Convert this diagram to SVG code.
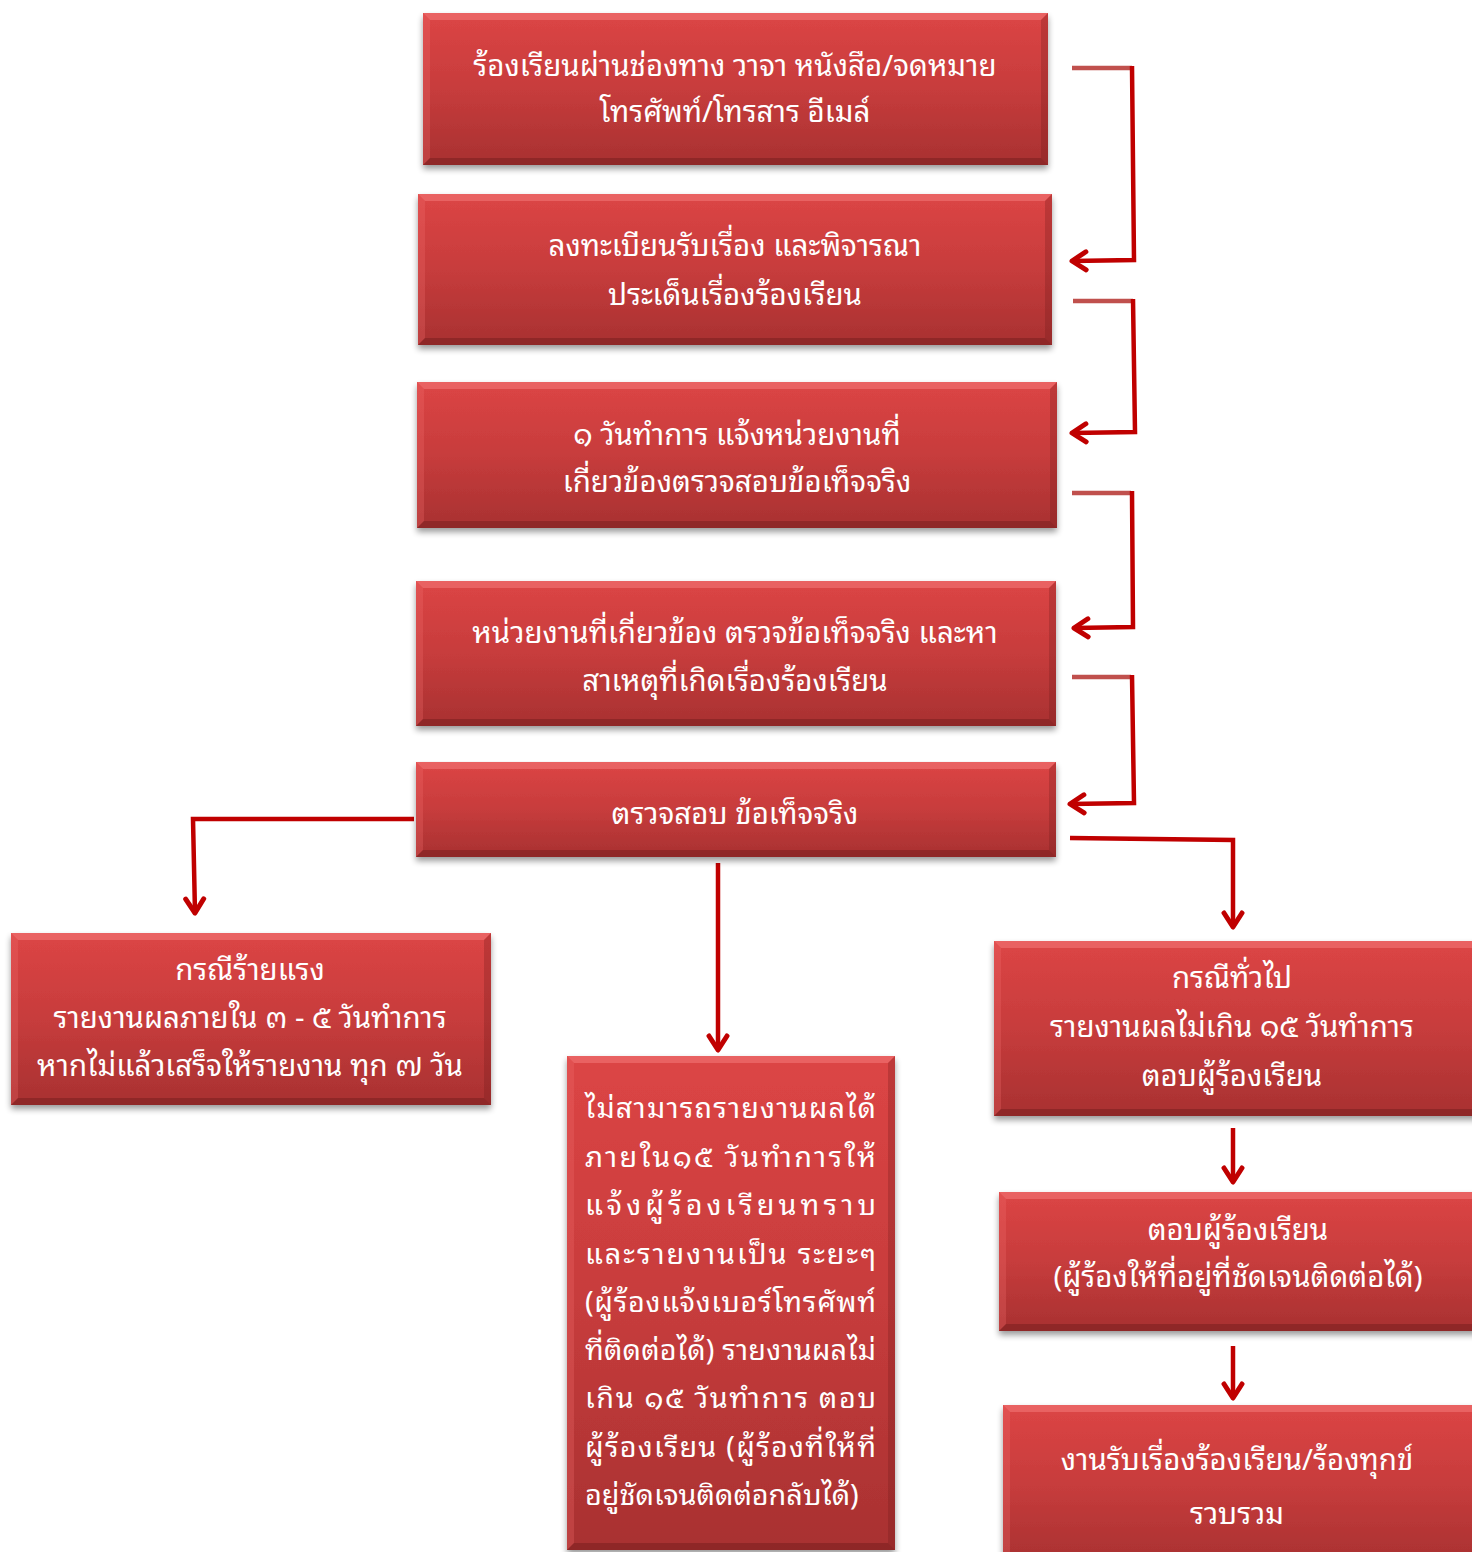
<svg xmlns="http://www.w3.org/2000/svg" width="1472" height="1552" viewBox="0 0 1472 1552">
<defs>
<linearGradient id="g" x1="0" y1="0" x2="0" y2="1">
<stop offset="0" stop-color="#dc4545"/>
<stop offset="0.5" stop-color="#c73c3c"/>
<stop offset="1" stop-color="#a83131"/>
</linearGradient>
<filter id="sh" x="-5%" y="-5%" width="110%" height="120%">
<feGaussianBlur in="SourceAlpha" stdDeviation="3"/>
<feOffset dx="0" dy="4" result="b"/>
<feComponentTransfer><feFuncA type="linear" slope="0.4"/></feComponentTransfer>
<feMerge><feMergeNode/><feMergeNode in="SourceGraphic"/></feMerge>
</filter>
<marker id="ah" viewBox="0 0 20 24" refX="17" refY="12" markerWidth="20" markerHeight="24" markerUnits="userSpaceOnUse" orient="auto">
<path d="M3,3 L17,12 L3,21" fill="none" stroke="#c00000" stroke-width="5" stroke-linecap="round" stroke-linejoin="round"/>
</marker>
<style>
.box{fill:url(#g);filter:url(#sh)}
.bt{fill:#f47a7a;opacity:.55}
.bl{fill:#ee6a6a;opacity:.3}
.br{fill:#6e1a1a;opacity:.28}
.bb{fill:#5e1515;opacity:.35}
.t{font-family:"Noto Sans Thai Looped","Noto Sans Thai","Noto Sans","DejaVu Sans",sans-serif;font-size:29.5px;fill:#ffffff;text-anchor:middle}
.tl{text-anchor:start;font-size:28.8px}
.c{fill:none;stroke:#c00000;stroke-width:4.5}
.cl{fill:none;stroke:#c0504d;stroke-width:4.5}
</style>
</defs>

<g id="connectors">
<line class="cl" x1="1072" y1="68" x2="1132" y2="68"/>
<polyline class="c" points="1132,66 1134,260 1072,261" marker-end="url(#ah)"/>
<line class="cl" x1="1073" y1="301" x2="1133" y2="301"/>
<polyline class="c" points="1133,299 1135,432 1072,433" marker-end="url(#ah)"/>
<line class="cl" x1="1072" y1="493" x2="1131" y2="493"/>
<polyline class="c" points="1132,491 1133,627 1074,628" marker-end="url(#ah)"/>
<line class="cl" x1="1072" y1="677" x2="1131" y2="677"/>
<polyline class="c" points="1132,675 1134,803 1070,804" marker-end="url(#ah)"/>
<polyline class="c" points="414,819 193,819 195,913" marker-end="url(#ah)"/>
<polyline class="c" points="718,863 718,1050" marker-end="url(#ah)"/>
<polyline class="c" points="1070,838 1233,840 1233,927" marker-end="url(#ah)"/>
<polyline class="c" points="1233,1128 1233,1182" marker-end="url(#ah)"/>
<polyline class="c" points="1233,1346 1233,1398" marker-end="url(#ah)"/>
</g>

<g id="n1">
<rect class="box" x="423" y="13" width="625" height="152"/>
<polygon class="bt" points="423,13 1048,13 1041,20 430,20"/>
<polygon class="bl" points="423,13 430,20 430,158 423,165"/>
<polygon class="br" points="1048,13 1048,165 1041,158 1041,20"/>
<polygon class="bb" points="423,165 1048,165 1041,158 430,158"/>
<text class="t" x="735" y="76">ร้องเรียนผ่านช่องทาง วาจา หนังสือ/จดหมาย</text>
<text class="t" x="735" y="122">โทรศัพท์/โทรสาร อีเมล์</text>
</g>

<g id="n2">
<rect class="box" x="418" y="194" width="634" height="151"/>
<polygon class="bt" points="418,194 1052,194 1045,201 425,201"/>
<polygon class="bl" points="418,194 425,201 425,338 418,345"/>
<polygon class="br" points="1052,194 1052,345 1045,338 1045,201"/>
<polygon class="bb" points="418,345 1052,345 1045,338 425,338"/>
<text class="t" x="735" y="256">ลงทะเบียนรับเรื่อง และพิจารณา</text>
<text class="t" x="735" y="305">ประเด็นเรื่องร้องเรียน</text>
</g>

<g id="n3">
<rect class="box" x="417" y="382" width="640" height="146"/>
<polygon class="bt" points="417,382 1057,382 1050,389 424,389"/>
<polygon class="bl" points="417,382 424,389 424,521 417,528"/>
<polygon class="br" points="1057,382 1057,528 1050,521 1050,389"/>
<polygon class="bb" points="417,528 1057,528 1050,521 424,521"/>
<text class="t" x="737" y="445">๑ วันทำการ แจ้งหน่วยงานที่</text>
<text class="t" x="737" y="492">เกี่ยวข้องตรวจสอบข้อเท็จจริง</text>
</g>

<g id="n4">
<rect class="box" x="416" y="581" width="640" height="145"/>
<polygon class="bt" points="416,581 1056,581 1049,588 423,588"/>
<polygon class="bl" points="416,581 423,588 423,719 416,726"/>
<polygon class="br" points="1056,581 1056,726 1049,719 1049,588"/>
<polygon class="bb" points="416,726 1056,726 1049,719 423,719"/>
<text class="t" x="735" y="643">หน่วยงานที่เกี่ยวข้อง ตรวจข้อเท็จจริง และหา</text>
<text class="t" x="735" y="691">สาเหตุที่เกิดเรื่องร้องเรียน</text>
</g>

<g id="n5">
<rect class="box" x="416" y="762" width="640" height="95"/>
<polygon class="bt" points="416,762 1056,762 1049,769 423,769"/>
<polygon class="bl" points="416,762 423,769 423,850 416,857"/>
<polygon class="br" points="1056,762 1056,857 1049,850 1049,769"/>
<polygon class="bb" points="416,857 1056,857 1049,850 423,850"/>
<text class="t" x="735" y="824">ตรวจสอบ ข้อเท็จจริง</text>
</g>

<g id="n6">
<rect class="box" x="11" y="933" width="480" height="172"/>
<polygon class="bt" points="11,933 491,933 484,940 18,940"/>
<polygon class="bl" points="11,933 18,940 18,1098 11,1105"/>
<polygon class="br" points="491,933 491,1105 484,1098 484,940"/>
<polygon class="bb" points="11,1105 491,1105 484,1098 18,1098"/>
<text class="t" x="250" y="980">กรณีร้ายแรง</text>
<text class="t" x="250" y="1028">รายงานผลภายใน ๓ - ๕ วันทำการ</text>
<text class="t" x="250" y="1076">หากไม่แล้วเสร็จให้รายงาน ทุก ๗ วัน</text>
</g>

<g id="n7">
<rect class="box" x="567" y="1056" width="328" height="494"/>
<polygon class="bt" points="567,1056 895,1056 888,1063 574,1063"/>
<polygon class="bl" points="567,1056 574,1063 574,1543 567,1550"/>
<polygon class="br" points="895,1056 895,1550 888,1543 888,1063"/>
<polygon class="bb" points="567,1550 895,1550 888,1543 574,1543"/>
<text class="t tl" x="585" y="1118" textLength="291" lengthAdjust="spacing">ไม่สามารถรายงานผลได้</text>
<text class="t tl" x="585" y="1167" textLength="291" lengthAdjust="spacing">ภายใน๑๕ วันทำการให้</text>
<text class="t tl" x="585" y="1215" textLength="291" lengthAdjust="spacing">แจ้งผู้ร้องเรียนทราบ</text>
<text class="t tl" x="585" y="1264" textLength="291" lengthAdjust="spacing">และรายงานเป็น ระยะๆ</text>
<text class="t tl" x="585" y="1312" textLength="291" lengthAdjust="spacing">(ผู้ร้องแจ้งเบอร์โทรศัพท์</text>
<text class="t tl" x="585" y="1360" textLength="291" lengthAdjust="spacing">ที่ติดต่อได้) รายงานผลไม่</text>
<text class="t tl" x="585" y="1408" textLength="291" lengthAdjust="spacing">เกิน ๑๕ วันทำการ ตอบ</text>
<text class="t tl" x="585" y="1457" textLength="291" lengthAdjust="spacing">ผู้ร้องเรียน (ผู้ร้องที่ให้ที่</text>
<text class="t tl" x="585" y="1505">อยู่ชัดเจนติดต่อกลับได้)</text>
</g>

<g id="n8">
<rect class="box" x="994" y="941" width="490" height="175"/>
<polygon class="bt" points="994,941 1484,941 1477,948 1001,948"/>
<polygon class="bl" points="994,941 1001,948 1001,1109 994,1116"/>
<polygon class="bb" points="994,1116 1484,1116 1477,1109 1001,1109"/>
<text class="t" x="1232" y="988">กรณีทั่วไป</text>
<text class="t" x="1232" y="1037">รายงานผลไม่เกิน ๑๕ วันทำการ</text>
<text class="t" x="1232" y="1086">ตอบผู้ร้องเรียน</text>
</g>

<g id="n9">
<rect class="box" x="999" y="1192" width="490" height="139"/>
<polygon class="bt" points="999,1192 1489,1192 1482,1199 1006,1199"/>
<polygon class="bl" points="999,1192 1006,1199 1006,1324 999,1331"/>
<polygon class="bb" points="999,1331 1489,1331 1482,1324 1006,1324"/>
<text class="t" x="1238" y="1240">ตอบผู้ร้องเรียน</text>
<text class="t" x="1238" y="1287">(ผู้ร้องให้ที่อยู่ที่ชัดเจนติดต่อได้)</text>
</g>

<g id="n10">
<rect class="box" x="1003" y="1405" width="490" height="160"/>
<polygon class="bt" points="1003,1405 1493,1405 1486,1412 1010,1412"/>
<polygon class="bl" points="1003,1405 1010,1412 1010,1565 1003,1565"/>
<text class="t" x="1237" y="1470">งานรับเรื่องร้องเรียน/ร้องทุกข์</text>
<text class="t" x="1237" y="1524">รวบรวม</text>
</g>
</svg>
